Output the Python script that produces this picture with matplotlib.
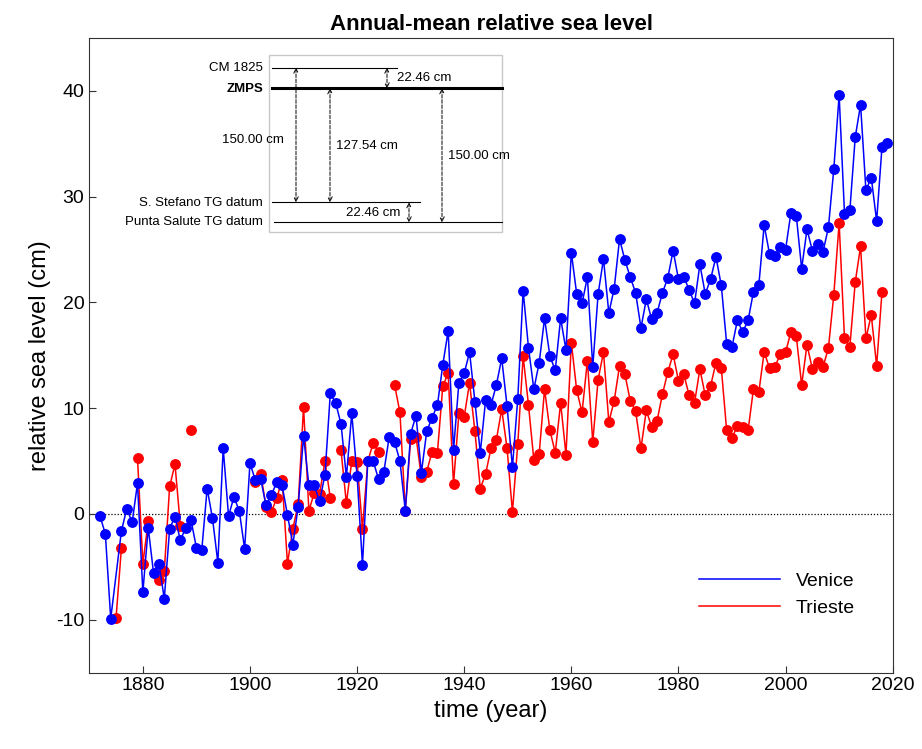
import numpy as np
import matplotlib
matplotlib.use("Agg")
import matplotlib.pyplot as plt

plt.rcParams['font.family'] = ['Liberation Sans', 'DejaVu Sans']
plt.rcParams['axes.unicode_minus'] = False
nan = np.nan

venice_years = [1872, 1873, 1874] + list(range(1876, 2020))
venice = [-0.2, -1.9, -9.9,
          -1.6, 0.5, -0.8, 2.9, -7.4, -1.3, -5.6, -4.7, -8.0, -1.4, -0.25, -2.5, -1.3, -0.6,
          -3.2, -3.4, 2.4, -0.4, -4.6, 6.2, -0.2, 1.6, 0.3, -3.3,
          4.8, 3.2, 3.3, 0.8, 1.8, 3.0, 2.7, -0.1, -2.9, 0.7,
          7.4, 2.7, 2.7, 1.2, 3.7, 11.4, 10.5, 8.5, 3.5, 9.5,
          3.6, -4.8, 5.0, 5.0, 3.3, 4.0, 7.3, 6.8, 5.0, 0.3,
          7.6, 9.3, 3.9, 7.8, 9.1, 10.3, 14.1, 17.3, 6.0, 12.4,
          13.3, 15.3, 10.6, 5.8, 10.8, 10.3, 12.2, 14.7, 10.2, 4.4,
          10.9, 21.1, 15.7, 11.8, 14.3, 18.5, 14.9, 13.6, 18.5, 15.5,
          24.7, 20.8, 19.9, 22.4, 13.9, 20.8, 24.1, 19.0, 21.3, 26.0,
          24.0, 22.4, 20.9, 17.6, 20.3, 18.4, 19.0, 20.9, 22.3, 24.9,
          22.2, 22.4, 21.2, 19.9, 23.6, 20.8, 22.2, 24.3, 21.6, 16.1,
          15.8, 18.3, 17.2, 18.3, 21.0, 21.6, 27.3, 24.6, 24.4, 25.2,
          25.0, 28.5, 28.2, 23.2, 26.9, 24.9, 25.5, 24.8, 27.1, 32.6,
          39.6, 28.4, 28.7, 35.6, 38.7, 30.6, 31.8, 27.7, 34.7, 35.1]

trieste_years = list(range(1875, 2019))
trieste = [-9.8, -3.2, nan, nan, 5.3, -4.7, -0.7, nan, -6.2, -5.4,
           2.6, 4.7, -1.1, nan, 7.9, nan, nan, nan, nan, nan,
           nan, nan, nan, nan, nan, nan, 3.0, 3.8, 0.7, 0.2,
           1.5, 3.2, -4.7, -1.4, 0.9, 10.1, 0.3, 2.0, 1.9, 5.0,
           1.5, nan, 6.0, 1.0, 5.0, 4.9, -1.4, 5.0, 6.7, 5.9,
           nan, nan, 12.2, 9.6, 0.3, 7.1, 7.3, 3.5, 4.0, 5.9,
           5.8, 12.1, 13.3, 2.8, 9.5, 9.2, 12.4, 7.8, 2.4, 3.8,
           6.2, 7.0, 9.9, 6.2, 0.2, 6.6, 14.9, 10.3, 5.1, 5.7,
           11.8, 7.9, 5.8, 10.5, 5.6, 16.2, 11.7, 9.6, 14.5, 6.8,
           12.7, 15.3, 8.7, 10.7, 14.0, 13.2, 10.7, 9.7, 6.2, 9.8,
           8.2, 8.8, 11.3, 13.4, 15.1, 12.6, 13.2, 11.2, 10.5, 13.7,
           11.2, 12.1, 14.3, 13.8, 7.9, 7.2, 8.3, 8.2, 7.9, 11.8,
           11.5, 15.3, 13.8, 13.9, 15.1, 15.3, 17.2, 16.8, 12.2, 16.0,
           13.7, 14.4, 13.9, 15.7, 20.7, 27.5, 16.6, 15.8, 21.9, 25.3,
           16.6, 18.8, 14.0, 21.0]

W, H = 922, 749
fig = plt.figure(figsize=(W / 100, H / 100), dpi=100)
ax = fig.add_axes([89.3 / W, 1 - 672.6 / H, (892.7 - 89.3) / W, (672.6 - 38) / H])

ax.axhline(0, color='black', linestyle=(0, (1, 1.5)), linewidth=0.9, zorder=1)
ax.plot(venice_years, venice, '-o', color='#0000ff', markersize=6.8, linewidth=1.1, zorder=3)
ax.plot(trieste_years, trieste, '-o', color='#ff0000', markersize=6.8, linewidth=1.1, zorder=2)

ax.set_xlim(1870, 2020)
ax.set_ylim(-15, 45)
ax.set_xticks(range(1880, 2021, 20))
ax.set_yticks(range(-10, 41, 10))
ax.tick_params(direction='in', labelsize=14, length=5, top=False, right=False, color='#333333')
for s in ax.spines.values():
    s.set_color('#333333')
ax.set_xlabel('time (year)', fontsize=17)
ax.set_ylabel('relative sea level (cm)', fontsize=17)
ax.set_title('Annual-mean relative sea level', fontsize=16, fontweight='bold', pad=6)

from matplotlib.lines import Line2D
ax.legend([Line2D([], [], color='#0000ff', lw=1.1), Line2D([], [], color='#ff0000', lw=1.1)],
          ['Venice', 'Trieste'], loc='lower right', bbox_to_anchor=(0.975, 0.06),
          frameon=False, fontsize=14, handlelength=4.2)

# inset diagram in pixel coordinates
ov = fig.add_axes([0, 0, 1, 1])
ov.set_xlim(0, W)
ov.set_ylim(H, 0)
ov.axis('off')
ov.add_patch(plt.Rectangle((269, 55), 233, 177, facecolor='white', edgecolor='#c8c8c8', lw=1))
ov.plot([272, 397], [67.7, 67.7], color='black', lw=0.8)
ov.plot([272, 502], [88.3, 88.3], color='black', lw=2.2)
ov.plot([272, 420], [202.3, 202.3], color='black', lw=0.8)
ov.plot([274, 502], [222.3, 222.3], color='black', lw=0.8)

def arr(x, y0, y1):
    ov.annotate('', xy=(x, y1), xytext=(x, y0),
                arrowprops=dict(arrowstyle='<->', linestyle='--', lw=0.7, color='black',
                                shrinkA=0, shrinkB=0, mutation_scale=8))

arr(296, 67.7, 202.3)
arr(330, 88.3, 202.3)
arr(442, 88.3, 222.3)
arr(387, 67.7, 88.3)
arr(409, 202.3, 222.3)

fs = 9.5
ov.text(263, 68, 'CM 1825', ha='right', va='center', fontsize=fs)
ov.text(263, 88.5, 'ZMPS', ha='right', va='center', fontsize=fs, fontweight='bold')
ov.text(263, 203, 'S. Stefano TG datum', ha='right', va='center', fontsize=fs)
ov.text(263, 222, 'Punta Salute TG datum', ha='right', va='center', fontsize=fs)
ov.text(253, 140, '150.00 cm', ha='center', va='center', fontsize=fs)
ov.text(336, 146, '127.54 cm', ha='left', va='center', fontsize=fs)
ov.text(448, 156, '150.00 cm', ha='left', va='center', fontsize=fs)
ov.text(397, 78, '22.46 cm', ha='left', va='center', fontsize=fs)
ov.text(400, 213, '22.46 cm', ha='right', va='center', fontsize=fs)

fig.savefig('out.png', dpi=100)
